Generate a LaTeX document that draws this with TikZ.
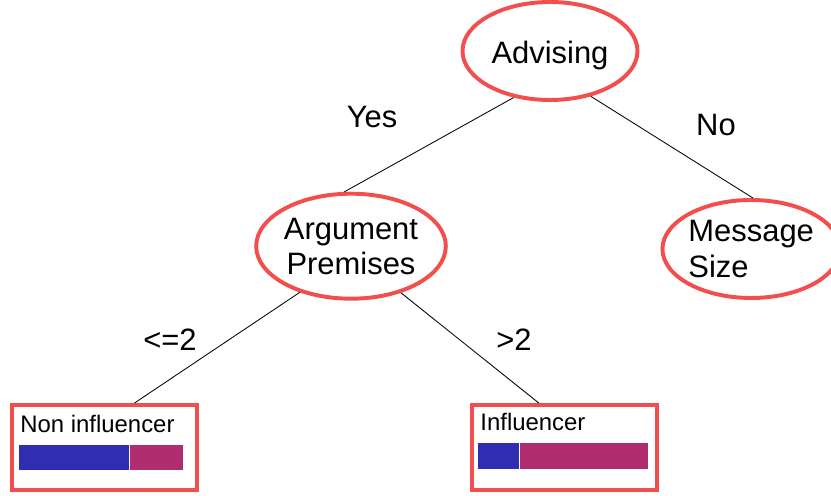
\documentclass[tikz,border=0pt]{standalone}
\usepackage{fontspec}
\setmainfont{Liberation Sans}
\usetikzlibrary{shapes.geometric,calc}

\definecolor{ringred}{RGB}{242,78,78}
\definecolor{barblue}{RGB}{48,46,176}
\definecolor{barpink}{RGB}{176,46,112}

\begin{document}
\begin{tikzpicture}[line width=0.6pt,
	test/.style = {ellipse, draw=ringred, line width=2.8pt, inner sep=0pt, align=center, font=\fontsize{22}{25}\selectfont},
	leaf/.style = {rectangle, draw=ringred, line width=2.8pt, minimum width=4.625cm, minimum height=2.125cm},
	edgelabel/.style = {font=\fontsize{22}{25}\selectfont},
	leaflabel/.style = {anchor=west, inner sep=0pt, font=\fontsize{17}{20}\selectfont}]
				\useasboundingbox (0,0) rectangle (20.775,12.375);
				
				\node[test, minimum width=4.375cm, minimum height=2.45cm, text height=0.8cm] (adv) at (13.75,11.1) {Advising};
				\node[test, minimum width=4.425cm, minimum height=2.625cm] (arg) at (8.775,6.22) {Argument\\Premises};
				\node[test, minimum width=4.3cm, minimum height=2.45cm, align=left] (msg) at (18.78,6.15) {Message\\Size};
				\node[leaf] (non) at (2.6125,1.1875) {};
				\node[leaf] (infl) at (14.1125,1.1875) {};
				
				\draw (adv.232) -- (arg.97);
				\draw (adv.312) -- (msg.88);
				\draw (arg.222) -- (non.56);
				\draw (arg.317) -- (infl.120);
				
				\node[edgelabel] (yes) at (9.3,9.45) {Yes};
				\node[edgelabel] (no) at (17.9,9.25) {No};
				\node[edgelabel] (le) at (4.25,3.875) {<=2};
				\node[edgelabel] (gt) at (12.85,3.875) {>2};
				
				\node[leaflabel] (nonlabel) at (0.5,1.775) {Non influencer};
				\node[leaflabel] (infllabel) at (12.0,1.82) {Influencer};
				
				\fill[barblue] (0.475,0.625) rectangle (3.225,1.25);
				\fill[barpink] (3.25,0.625) rectangle (4.575,1.25);
				\fill[barblue] (11.95,0.65) rectangle (12.975,1.3);
				\fill[barpink] (13.0,0.65) rectangle (16.2,1.3);
			\end{tikzpicture}
\end{document}
